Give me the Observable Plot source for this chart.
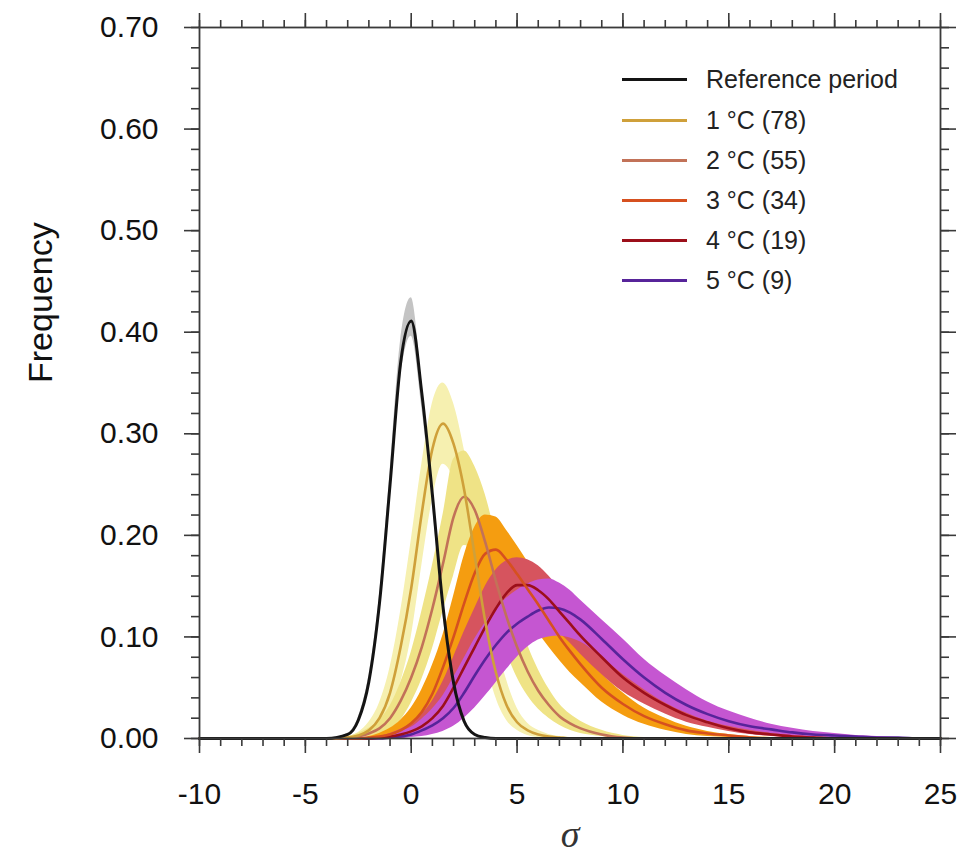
<!DOCTYPE html>
<html>
<head>
<meta charset="utf-8">
<script src="https://cdn.jsdelivr.net/npm/d3@7"></script>
<script src="https://cdn.jsdelivr.net/npm/@observablehq/plot@0.6"></script>
<style>
  body { margin: 0; background: #fff; }
  #wrap { position: relative; width: 979px; height: 860px; font-family: "Liberation Sans", Arial, sans-serif; }
  #legend { position: absolute; left: 622px; top: 58px; }
  .row { display: flex; align-items: center; height: 40px; font-size: 25px; color: #222; }
  .row:first-child { height: 42px; }
  .sw { width: 65px; height: 0; border-top: 3px solid; margin-right: 19px; }
</style>
</head>
<body>
<div id="wrap"><div id="legend"></div></div>
<script>
// ---- data ----
const xGrid = [-10, -4, -3, -2.5, -2, -1.5, -1, -0.5, 0, 0.5, 1, 1.5, 2, 2.5, 3, 3.5, 4, 4.5, 5, 5.5, 6, 6.5, 7, 7.5, 8, 9, 10, 11, 12, 13, 14, 15, 16, 17, 18, 19, 20, 21, 22, 23, 24, 25];

const refMid = [0,0,0.004,0.018,0.056,0.133,0.25,0.37,0.411,0.34,0.24,0.13,0.055,0.017,0.004,0.001,0,0,0,0,0,0,0,0,0,0,0,0,0,0,0,0,0,0,0,0,0,0,0,0,0,0];
const refLo  = [0,0,0.003,0.015,0.05,0.125,0.24,0.355,0.396,0.326,0.23,0.122,0.05,0.014,0.003,0.001,0,0,0,0,0,0,0,0,0,0,0,0,0,0,0,0,0,0,0,0,0,0,0,0,0,0];
const refHi  = [0,0,0.005,0.021,0.062,0.141,0.262,0.392,0.434,0.352,0.25,0.138,0.06,0.02,0.005,0.001,0,0,0,0,0,0,0,0,0,0,0,0,0,0,0,0,0,0,0,0,0,0,0,0,0,0];

const c1Mid = [0,0,0.001,0.003,0.008,0.02,0.045,0.09,0.148,0.222,0.285,0.31,0.29,0.245,0.18,0.115,0.065,0.033,0.016,0.008,0.004,0.002,0.001,0,0,0,0,0,0,0,0,0,0,0,0,0,0,0,0,0,0,0];
const c1Lo  = [0,0,0,0.001,0.004,0.01,0.025,0.055,0.1,0.17,0.235,0.27,0.255,0.205,0.14,0.08,0.04,0.018,0.008,0.003,0.001,0,0,0,0,0,0,0,0,0,0,0,0,0,0,0,0,0,0,0,0,0];
const c1Hi  = [0,0,0.002,0.006,0.016,0.035,0.07,0.125,0.195,0.27,0.33,0.35,0.33,0.285,0.225,0.16,0.1,0.058,0.03,0.015,0.008,0.004,0.002,0.001,0,0,0,0,0,0,0,0,0,0,0,0,0,0,0,0,0,0];

const c2Mid = [0,0,0.001,0.002,0.005,0.01,0.02,0.037,0.06,0.09,0.128,0.172,0.218,0.238,0.225,0.193,0.155,0.12,0.09,0.066,0.047,0.033,0.022,0.015,0.01,0.004,0.001,0,0,0,0,0,0,0,0,0,0,0,0,0,0,0];
const c2Lo  = [0,0,0,0.001,0.002,0.004,0.009,0.018,0.035,0.058,0.088,0.125,0.16,0.19,0.185,0.155,0.118,0.085,0.06,0.042,0.029,0.02,0.013,0.008,0.005,0.002,0,0,0,0,0,0,0,0,0,0,0,0,0,0,0,0];
const c2Hi  = [0,0,0.002,0.005,0.01,0.018,0.032,0.055,0.085,0.125,0.17,0.22,0.275,0.283,0.268,0.24,0.2,0.16,0.122,0.092,0.068,0.049,0.034,0.024,0.017,0.008,0.003,0.001,0,0,0,0,0,0,0,0,0,0,0,0,0,0];

const c3Mid = [0,0,0,0,0.001,0.002,0.004,0.008,0.015,0.026,0.044,0.07,0.1,0.133,0.163,0.182,0.186,0.176,0.162,0.147,0.132,0.116,0.1,0.086,0.073,0.05,0.034,0.022,0.014,0.008,0.005,0.003,0.001,0,0,0,0,0,0,0,0,0];
const c3Lo  = [0,0,0,0,0,0,0.001,0.003,0.006,0.012,0.022,0.038,0.058,0.085,0.115,0.14,0.15,0.145,0.132,0.118,0.104,0.09,0.077,0.065,0.055,0.036,0.023,0.014,0.008,0.004,0.002,0.001,0,0,0,0,0,0,0,0,0,0];
const c3Hi  = [0,0,0,0,0.002,0.005,0.01,0.018,0.03,0.048,0.072,0.102,0.14,0.18,0.208,0.22,0.218,0.205,0.19,0.174,0.158,0.14,0.122,0.105,0.09,0.064,0.045,0.03,0.02,0.012,0.007,0.004,0.002,0.001,0,0,0,0,0,0,0,0];

const c4Mid = [0,0,0,0,0,0.001,0.002,0.004,0.007,0.012,0.02,0.032,0.05,0.07,0.09,0.11,0.128,0.143,0.151,0.151,0.146,0.137,0.125,0.113,0.101,0.08,0.06,0.045,0.033,0.023,0.016,0.01,0.006,0.004,0.002,0.001,0,0,0,0,0,0];
const c4Lo  = [0,0,0,0,0,0,0,0,0.003,0.006,0.01,0.018,0.028,0.042,0.058,0.075,0.092,0.108,0.12,0.125,0.122,0.114,0.104,0.094,0.083,0.063,0.046,0.034,0.024,0.016,0.011,0.007,0.004,0.002,0.001,0,0,0,0,0,0,0];
const c4Hi  = [0,0,0,0,0,0.002,0.005,0.009,0.015,0.024,0.037,0.056,0.08,0.105,0.128,0.15,0.166,0.175,0.178,0.176,0.17,0.16,0.148,0.135,0.122,0.098,0.076,0.058,0.043,0.031,0.022,0.015,0.01,0.006,0.004,0.002,0.001,0,0,0,0,0];

const c5Mid = [0,0,0,0,0,0,0.001,0.002,0.004,0.008,0.013,0.02,0.03,0.045,0.062,0.078,0.092,0.104,0.113,0.12,0.126,0.129,0.128,0.124,0.117,0.098,0.078,0.06,0.045,0.033,0.024,0.017,0.012,0.009,0.006,0.004,0.003,0.002,0.001,0.001,0,0];
const c5Lo  = [0,0,0,0,0,0,0,0,0.001,0.002,0.004,0.007,0.012,0.02,0.03,0.042,0.055,0.068,0.08,0.09,0.097,0.1,0.101,0.099,0.095,0.08,0.063,0.048,0.035,0.025,0.017,0.012,0.008,0.005,0.003,0.002,0.001,0,0,0,0,0];
const c5Hi  = [0,0,0,0,0,0.002,0.004,0.007,0.011,0.019,0.029,0.042,0.06,0.079,0.098,0.114,0.127,0.138,0.146,0.152,0.156,0.157,0.153,0.146,0.136,0.117,0.098,0.078,0.062,0.048,0.036,0.027,0.02,0.014,0.01,0.007,0.005,0.003,0.002,0.001,0,0];

const seriesNames = ["Reference period", "1 °C (78)", "2 °C (55)", "3 °C (34)", "4 °C (19)", "5 °C (9)"];
const lineColors  = ["#141414", "#cfa03a", "#c27258", "#d6501f", "#9c0f1a", "#57249a"];
const bandColors  = ["#c4c4c4", "#f6f0b0", "#efe386", "#f59d10", "#d6545e", "#c556d1"];

const xTicks = [-10, -5, 0, 5, 10, 15, 20, 25];
const xTickLabels = ["-10", "-5", "0", "5", "10", "15", "20", "25"];
const yTicks = [0, 0.1, 0.2, 0.3, 0.4, 0.5, 0.6, 0.7];
const yTickLabels = ["0.00", "0.10", "0.20", "0.30", "0.40", "0.50", "0.60", "0.70"];
const xMinor = d3.range(-10, 25.001, 1);
const yMinor = d3.range(0, 0.7001, 0.02);

// ---- build tables ----
const mids = [refMid, c1Mid, c2Mid, c3Mid, c4Mid, c5Mid];
const los  = [refLo, c1Lo, c2Lo, c3Lo, c4Lo, c5Lo];
const his  = [refHi, c1Hi, c2Hi, c3Hi, c4Hi, c5Hi];
const tables = seriesNames.map((name, s) =>
  xGrid.map((x, i) => ({ x, mid: mids[s][i], lo: los[s][i], hi: his[s][i], name })));

const axisStyle = { stroke: "#3a3a3a", strokeWidth: 1.6 };
const font = "Liberation Sans, Arial, sans-serif";

const marks = [];
tables.forEach((t, s) => marks.push(Plot.areaY(t, { x: "x", y1: "lo", y2: "hi", fill: bandColors[s], curve: "monotone-x" })));
for (let s = tables.length - 1; s >= 1; s--) {
  marks.push(Plot.lineY(tables[s], { x: "x", y: "mid", stroke: lineColors[s], strokeWidth: 2.6, curve: "monotone-x" }));
}
marks.push(Plot.lineY(tables[0], { x: "x", y: "mid", stroke: lineColors[0], strokeWidth: 3, curve: "monotone-x" }));

marks.push(
  Plot.axisX(xTicks, { anchor: "bottom", tickSize: 15, tickPadding: 29, tickFormat: (d, i) => xTickLabels[i], fontSize: 30, fill: "#111", label: null, ...axisStyle }),
  Plot.axisX(xMinor, { anchor: "bottom", tickSize: 8, text: null, label: null, ...axisStyle }),
  Plot.axisX(xTicks, { anchor: "top", tickSize: 15, text: null, label: null, ...axisStyle }),
  Plot.axisX(xMinor, { anchor: "top", tickSize: 8, text: null, label: null, ...axisStyle }),
  Plot.axisY(yTicks, { anchor: "left", tickSize: 15, tickPadding: 26, tickFormat: (d, i) => yTickLabels[i], fontSize: 30, fill: "#111", label: null, ...axisStyle }),
  Plot.axisY(yMinor, { anchor: "left", tickSize: 8, text: null, label: null, ...axisStyle }),
  Plot.axisY(yTicks, { anchor: "right", tickSize: 15, text: null, label: null, ...axisStyle }),
  Plot.axisY(yMinor, { anchor: "right", tickSize: 8, text: null, label: null, ...axisStyle }),
  Plot.frame({ stroke: "#3a3a3a", strokeWidth: 1.8 }),
  Plot.text(["Frequency"], { frameAnchor: "left", rotate: -90, dx: -158, fontSize: 34, fill: "#111", fontFamily: font }),
  Plot.text(["σ"], { frameAnchor: "bottom", dy: 108, fontSize: 38, fill: "#333", fontStyle: "italic", fontFamily: "Liberation Serif, serif" })
);

const chart = Plot.plot({
  width: 979,
  height: 860,
  marginLeft: 199,
  marginRight: 39,
  marginTop: 27,
  marginBottom: 122,
  x: { domain: [-10, 25] },
  y: { domain: [0, 0.7] },
  style: { fontFamily: font, background: "#fff", overflow: "visible" },
  marks
});
document.getElementById("wrap").prepend(chart);

// legend
const legend = document.getElementById("legend");
seriesNames.forEach((name, s) => {
  const row = document.createElement("div");
  row.className = "row";
  const sw = document.createElement("span");
  sw.className = "sw";
  sw.style.borderTopColor = lineColors[s];
  const lab = document.createElement("span");
  lab.textContent = name;
  row.append(sw, lab);
  legend.append(row);
});
</script>
</body>
</html>
